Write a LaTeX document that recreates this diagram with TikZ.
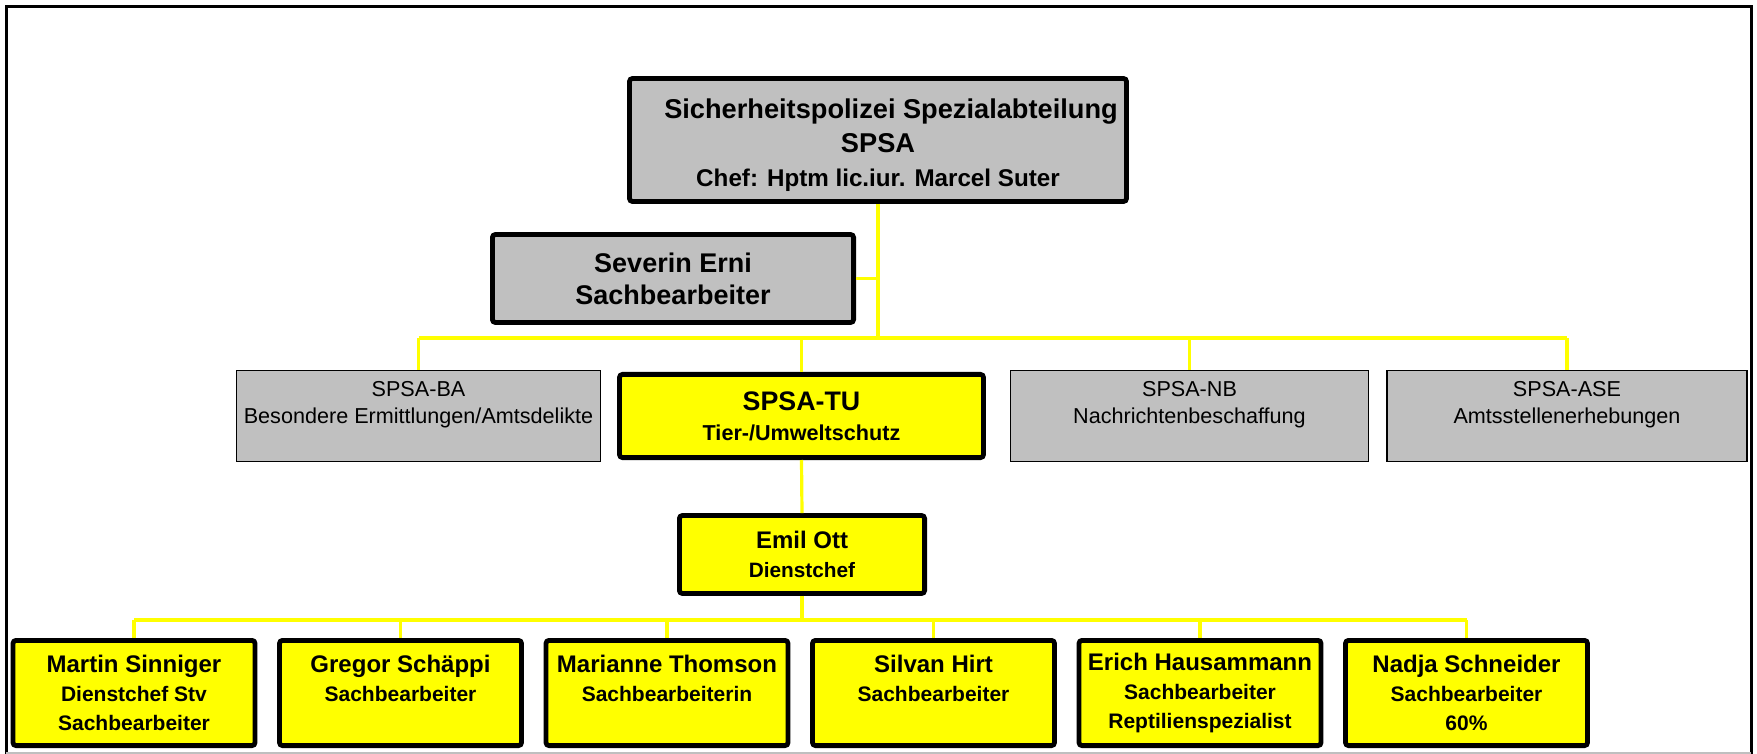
\documentclass[tikz,border=0pt]{standalone}
\usepackage{fontspec}
\setmainfont{Liberation Sans}
\usetikzlibrary{positioning}
\definecolor{boxgrey}{HTML}{C0C0C0}
\definecolor{boxyellow}{HTML}{FFFF00}
\tikzset{
  thickbox/.style={draw, line width=2.4pt, rounded corners=1.5pt, align=center, inner sep=0pt},
  deptbox/.style={draw, line width=0.7pt, fill=boxgrey, align=center, inner sep=0pt,
    minimum width=180pt, minimum height=45.3pt, font=\fontsize{10.8}{13.5}\selectfont},
  staffbox/.style={thickbox, fill=boxyellow, minimum width=121pt, minimum height=52.6pt,
    font=\bfseries\fontsize{10.5}{14.5}\selectfont},
  link/.style={draw=boxyellow, line width=1.6pt}
}
\newcommand{\nm}[1]{{\fontsize{12}{14.5}\selectfont #1}}

\begin{document}
\begin{tikzpicture}[x=0.5pt, y=-0.5pt]
  \useasboundingbox (0,0) rectangle (1757,754);
  % frame
  \draw[line width=1.5pt] (6,754) -- (6,7) -- (1751,7) -- (1751,754);
  \draw[gray!50, line width=0.6pt] (6,753) -- (1751,753);

  % head of the department
  \node[thickbox, fill=boxgrey, minimum width=248.5pt, minimum height=61.5pt,
        font=\bfseries\fontsize{13.6}{17}\selectfont] (spsa) at (878,140)
        {\rule{0pt}{15pt}\hspace*{13pt}Sicherheitspolizei Spezialabteilung\\SPSA\\
         {\fontsize{12.1}{17}\selectfont Chef: Hptm lic.iur. Marcel Suter}};
  \node[thickbox, fill=boxgrey, minimum width=180.6pt, minimum height=44pt,
        font=\bfseries\fontsize{13.5}{16}\selectfont] (erni) at (673,278.5)
        {Severin Erni\\Sachbearbeiter};

  % departments
  \node[deptbox, minimum width=181.8pt] (ba) at (418.5,416)
        {SPSA-BA\\Besondere Ermittlungen/Amtsdelikte\\\mbox{}};
  \node[thickbox, fill=boxyellow, minimum width=182pt, minimum height=41.6pt,
        font=\bfseries\fontsize{10.8}{15}\selectfont] (tu) at (801.5,416)
        {{\fontsize{13.4}{15}\selectfont SPSA-TU}\\Tier-/Umweltschutz};
  \node[deptbox, minimum width=179pt] (nb) at (1189.5,416)
        {SPSA-NB\\Nachrichtenbeschaffung\\\mbox{}};
  \node[deptbox] (ase) at (1567,416)
        {SPSA-ASE\\Amtsstellenerhebungen\\\mbox{}};

  \node[thickbox, fill=boxyellow, minimum width=122.6pt, minimum height=39pt,
        font=\bfseries\fontsize{10.4}{14.5}\selectfont] (ott) at (802,554.5)
        {\nm{Emil Ott}\\Dienstchef};

  % staff
  \node[staffbox] (sinniger)  at (134,693)    {\nm{Martin Sinniger}\\Dienstchef Stv\\Sachbearbeiter};
  \node[staffbox] (schaeppi)  at (400.5,693)  {\nm{Gregor Schäppi}\\Sachbearbeiter\\\mbox{}};
  \node[staffbox] (thomson)   at (667,693)    {\nm{Marianne Thomson}\\Sachbearbeiterin\\\mbox{}};
  \node[staffbox] (hirt)      at (933.5,693)  {\nm{Silvan Hirt}\\Sachbearbeiter\\\mbox{}};
  \node[staffbox] (hausammann) at (1200,693)  {\nm{Erich Hausammann}\\Sachbearbeiter\\Reptilienspezialist};
  \node[staffbox] (schneider) at (1466.5,693) {\nm{Nadja Schneider}\\Sachbearbeiter\\60\%};

  % connectors
  \coordinate (busA) at (878,338);
  \draw[link] (spsa.south) -- (busA);
  \draw[link] (erni.east) -- (erni.east -| busA);
  \draw[link] (busA -| ba.north) -- (busA -| ase.north);
  \foreach \d in {ba,tu,nb,ase}
    \draw[link] (busA -| \d.north) -- (\d.north);
  \draw[link] (tu.south) -- (ott.north);
  \coordinate (busB) at (802,620);
  \draw[link] (ott.south) -- (busB);
  \draw[link] (busB -| sinniger.north) -- (busB -| schneider.north);
  \foreach \s in {sinniger,schaeppi,thomson,hirt,hausammann,schneider}
    \draw[link] (busB -| \s.north) -- (\s.north);
\end{tikzpicture}
\end{document}
